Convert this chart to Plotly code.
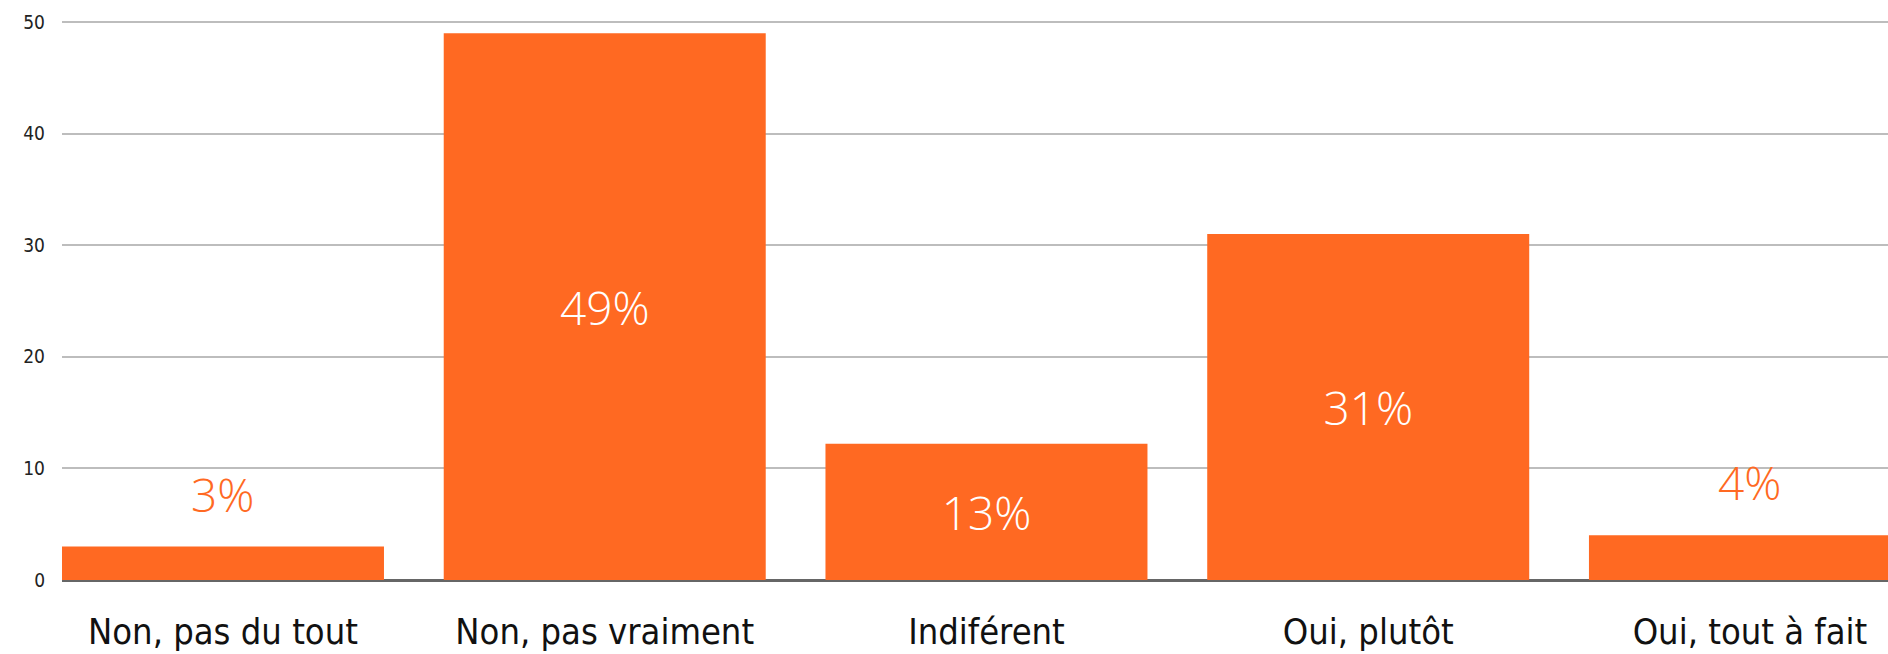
import plotly.graph_objects as go

categories = ["Non, pas du tout", "Non, pas vraiment", "Indiférent", "Oui, plutôt", "Oui, tout à fait"]
values = [3, 49, 12.2, 31, 4]
labels = ["3%", "49%", "13%", "31%", "4%"]
y_ticks = [0, 10, 20, 30, 40, 50]

ORANGE = "#FF6922"
INSIDE_MIN = 8  # bars shorter than this get their label above the bar
AXIS_FONT = "DejaVu Sans Condensed, DejaVu Sans, sans-serif"

inside_text = [t if v >= INSIDE_MIN else "" for v, t in zip(values, labels)]

fig = go.Figure()
fig.add_trace(go.Bar(
    x=categories,
    y=values,
    marker=dict(color=ORANGE, line=dict(width=0)),
    text=inside_text,
    textposition="inside",
    insidetextanchor="middle",
    textangle=0,
    textfont=dict(family="Open Sans", size=46, color="white", weight=300),
    hoverinfo="skip",
))

for c, v, t in zip(categories, values, labels):
    if v < INSIDE_MIN:
        fig.add_annotation(
            x=c, y=v, text=t, showarrow=False,
            xanchor="center", yanchor="bottom", yshift=20,
            font=dict(family="Open Sans", size=46, color=ORANGE, weight=300),
        )

fig.update_layout(
    width=1888, height=654,
    margin=dict(l=62, r=0, t=20, b=74, autoexpand=False),
    paper_bgcolor="white", plot_bgcolor="white",
    bargap=0.1565,
    showlegend=False,
    hovermode=False,
)
fig.update_xaxes(
    type="category",
    range=[-0.4217, 4.3616],
    automargin=False,
    showgrid=False, showline=False, zeroline=False,
    ticks="", ticklabelstandoff=27,
    tickfont=dict(family=AXIS_FONT, size=36, color="#111111"),
)
fig.update_yaxes(
    range=[0, 50.18],
    automargin=False,
    tickvals=y_ticks,
    showgrid=True, gridcolor="#BDBDBD", gridwidth=2,
    zeroline=True, zerolinecolor="#666666", zerolinewidth=3,
    showline=False, ticks="", ticklabelstandoff=16,
    tickfont=dict(family=AXIS_FONT, size=19, color="#222222"),
)

fig.write_html(
    "out.html",
    config={"displayModeBar": False, "staticPlot": True},
    post_script="document.body.style.margin='0';document.body.style.overflow='hidden';",
)
